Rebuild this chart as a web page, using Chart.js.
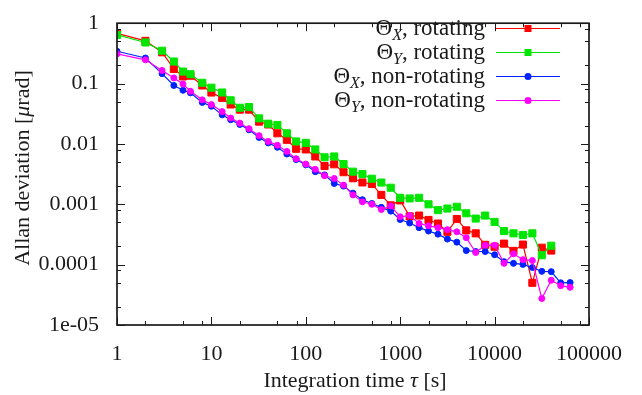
<!DOCTYPE html>
<html>
<head>
<meta charset="utf-8">
<script src="https://cdn.jsdelivr.net/npm/chart.js@4.4.1/dist/chart.umd.min.js"></script>
<style>
  html, body { margin: 0; padding: 0; background: #fff; }
  #wrap { width: 642px; height: 395px; position: relative; }
</style>
</head>
<body>
<div id="wrap"><canvas id="allan"></canvas></div>
<script>
// integration times [s]
const tau = [1, 2, 3, 4, 5, 6, 8, 10, 13, 16, 20, 25, 32, 40, 50, 63, 79, 100,
  126, 158, 200, 251, 316, 398, 501, 631, 794, 1000,
  1259, 1585, 1995, 2512, 3162, 3981, 5012, 6310, 7943, 10000,
  12589, 15849, 19953, 25119, 31623, 39811, 50119, 63096];

// Allan deviation [urad]
const thetaXRot = [0.68, 0.51, 0.33, 0.175, 0.131, 0.135, 0.093, 0.071, 0.058, 0.045, 0.037, 0.037,
  0.0234, 0.021, 0.015, 0.0117, 0.0083, 0.0081, 0.0062, 0.0043, 0.0046, 0.0034, 0.0027, 0.0023,
  0.00217, 0.00143, 0.00096, 0.00116, 0.00063, 0.00065, 0.00055, 0.00048, 0.00035, 0.00057,
  0.00037, 0.00033, 0.000213, 0.000198, 0.000223, 0.000169, 0.000215, 0.00005, 0.000191, 0.000171];
const thetaYRot = [0.64, 0.48, 0.35, 0.232, 0.158, 0.143, 0.103, 0.0855, 0.0711, 0.0528, 0.0397, 0.0408,
  0.0265, 0.0216, 0.0206, 0.015, 0.011, 0.0104, 0.0081, 0.006, 0.0062, 0.00464, 0.00347, 0.00316,
  0.00265, 0.00229, 0.00188, 0.00128, 0.00125, 0.00128, 0.001, 0.0008, 0.00085, 0.00091,
  0.00071, 0.00058, 0.00065, 0.00051, 0.00036, 0.00033, 0.00031, 0.00033, 0.000143, 0.000206];
const thetaXStill = [0.343, 0.265, 0.146, 0.093, 0.0774, 0.0701, 0.0487, 0.0421, 0.0303, 0.0252, 0.021, 0.0171,
  0.0128, 0.0104, 0.0088, 0.0068, 0.0055, 0.0045, 0.00347, 0.00307, 0.00221, 0.002, 0.00153, 0.00119,
  0.00103, 0.00089, 0.00077, 0.00056, 0.00049, 0.00041, 0.00036, 0.00032, 0.000265, 0.000236,
  0.000171, 0.000165, 0.000165, 0.000146, 0.000112, 0.000105, 0.000101, 0.0000896, 0.0000774, 0.0000766,
  0.00005, 0.0000505];
const thetaYStill = [0.31, 0.247, 0.165, 0.124, 0.098, 0.0746, 0.0537, 0.0448, 0.0343, 0.0268, 0.0221, 0.0179,
  0.0137, 0.011, 0.0095, 0.0075, 0.0057, 0.00464, 0.00379, 0.00297, 0.00268, 0.00208, 0.00143, 0.0011,
  0.001, 0.00082, 0.00094, 0.00062, 0.00065, 0.00048, 0.00044, 0.00041, 0.00038, 0.00035,
  0.00028, 0.000159, 0.00021, 0.00021, 0.000105, 0.000151, 0.000121, 0.000117, 0.0000275, 0.000055,
  0.0000448, 0.0000421];

const legendLabels = [
  ['Θ', 'X', ', rotating'],
  ['Θ', 'Y', ', rotating'],
  ['Θ', 'X', ', non-rotating'],
  ['Θ', 'Y', ', non-rotating']
];
const xTickLabels = ['1', '10', '100', '1000', '10000', '100000'];
const yTickLabels = ['1e-05', '0.0001', '0.001', '0.01', '0.1', '1'];
const minorSteps = [2, 5, 8];

const FONT = '"Liberation Serif", "Times New Roman", serif';
const INK = '#1a1a1a';
const FS = 22;

function pairs(ys) { return ys.map((y, i) => ({ x: tau[i], y: y })); }

function series(label, ys, color, style, order) {
  return {
    label: label, data: pairs(ys), order: order,
    borderColor: color, backgroundColor: color, borderWidth: 1.2,
    pointStyle: style, pointRadius: style === 'rect' ? 5 : 3,
    pointBorderWidth: 1, pointBorderColor: color, pointBackgroundColor: color,
    showLine: true, tension: 0
  };
}

// draw text made of [string, italic, size, dy] runs starting at x
function drawRuns(ctx, runs, x, y) {
  runs.forEach(r => {
    ctx.font = (r[1] ? 'italic ' : '') + r[2] + 'px ' + FONT;
    ctx.fillText(r[0], x, y + (r[3] || 0));
    x += ctx.measureText(r[0]).width;
  });
}
function runsWidth(ctx, runs) {
  let w = 0;
  runs.forEach(r => { ctx.font = (r[1] ? 'italic ' : '') + r[2] + 'px ' + FONT; w += ctx.measureText(r[0]).width; });
  return w;
}

function drawMarker(ctx, style, color, x, y) {
  ctx.fillStyle = color;
  ctx.beginPath();
  if (style === 'rect') ctx.rect(x - 3.5, y - 3.5, 7, 7);
  else ctx.arc(x, y, 3.5, 0, Math.PI * 2);
  ctx.fill();
}

const frame = {
  id: 'frame',
  afterDraw(chart) {
    const ctx = chart.ctx, a = chart.chartArea;
    const xs = chart.scales.x, ys = chart.scales.y;
    ctx.save();
    ctx.strokeStyle = INK;
    ctx.lineWidth = 1;
    // inward ticks on all four sides
    const ticksFor = (scale, horiz) => {
      const lo = Math.floor(Math.log10(scale.min)), hi = Math.ceil(Math.log10(scale.max));
      for (let e = lo; e <= hi; e++) {
        [1].concat(minorSteps).forEach(m => {
          const v = m * Math.pow(10, e);
          if (v < scale.min * 0.999 || v > scale.max * 1.001) return;
          const len = m === 1 ? 8 : 4;
          const p = Math.round(scale.getPixelForValue(v)) + 0.5;
          ctx.beginPath();
          if (horiz) {
            ctx.moveTo(p, a.bottom); ctx.lineTo(p, a.bottom - len);
            ctx.moveTo(p, a.top); ctx.lineTo(p, a.top + len);
          } else {
            ctx.moveTo(a.left, p); ctx.lineTo(a.left + len, p);
            ctx.moveTo(a.right, p); ctx.lineTo(a.right - len, p);
          }
          ctx.stroke();
        });
      }
    };
    ticksFor(xs, true);
    ticksFor(ys, false);
    ctx.lineWidth = 1.7;
    ctx.strokeRect(a.left, a.top, a.right - a.left, a.bottom - a.top);

    // legend
    ctx.textBaseline = 'alphabetic';
    chart.data.datasets.forEach((ds, i) => {
      const cy = 28 + i * 24;
      const lab = legendLabels[i];
      const runs = [[lab[0], false, FS + 1], [lab[1], true, 16, 5], [lab[2], false, FS + 1]];
      const w = runsWidth(ctx, runs);
      ctx.fillStyle = INK;
      drawRuns(ctx, runs, 485 - w, cy + 7);
      ctx.strokeStyle = ds.borderColor;
      ctx.lineWidth = 1.2;
      ctx.beginPath(); ctx.moveTo(496, cy + 0.5); ctx.lineTo(560, cy + 0.5); ctx.stroke();
      drawMarker(ctx, ds.pointStyle, ds.borderColor, 528, cy + 0.5);
    });

    // axis titles
    ctx.fillStyle = INK;
    const xt = [['Integration time ', false, FS], ['τ', true, FS], [' [s]', false, FS]];
    drawRuns(ctx, xt, 355 - runsWidth(ctx, xt) / 2, 387);
    const yt = [['Allan deviation [', false, FS], ['μ', true, FS], ['rad]', false, FS]];
    ctx.translate(29, 168);
    ctx.rotate(-Math.PI / 2);
    drawRuns(ctx, yt, -runsWidth(ctx, yt) / 2, 0);
    ctx.restore();
  }
};

const powerLabel = (labels, minExp) => (v) => {
  const e = Math.log10(v);
  if (Math.abs(e - Math.round(e)) > 1e-6) return null;
  return labels[Math.round(e) - minExp];
};

new Chart(document.getElementById('allan'), {
  type: 'scatter',
  data: {
    datasets: [
      series('ΘX, rotating', thetaXRot, '#ff0000', 'rect', 3),
      series('ΘY, rotating', thetaYRot, '#00e600', 'rect', 2),
      series('ΘX, non-rotating', thetaXStill, '#0022ff', 'circle', 1),
      series('ΘY, non-rotating', thetaYStill, '#ff00ff', 'circle', 0)
    ]
  },
  options: {
    responsive: true,
    maintainAspectRatio: false,
    animation: false,
    devicePixelRatio: 1,
    layout: { padding: { top: 10, right: 53, left: 0, bottom: 0 } },
    plugins: { legend: { display: false }, tooltip: { enabled: false } },
    scales: {
      x: {
        type: 'logarithmic', min: 1, max: 100000,
        afterFit(s) { s.height = 70; },
        grid: { display: false }, border: { display: false },
        ticks: { autoSkip: false, maxRotation: 0, padding: 8, color: INK,
          font: { family: FONT, size: FS }, callback: powerLabel(xTickLabels, 0) }
      },
      y: {
        type: 'logarithmic', min: 1e-5, max: 1,
        afterFit(s) { s.width = 117; },
        grid: { display: false }, border: { display: false },
        ticks: { autoSkip: false, padding: 10, color: INK,
          font: { family: FONT, size: FS }, callback: powerLabel(yTickLabels, -5) }
      }
    }
  },
  plugins: [frame]
});
</script>
</body>
</html>
